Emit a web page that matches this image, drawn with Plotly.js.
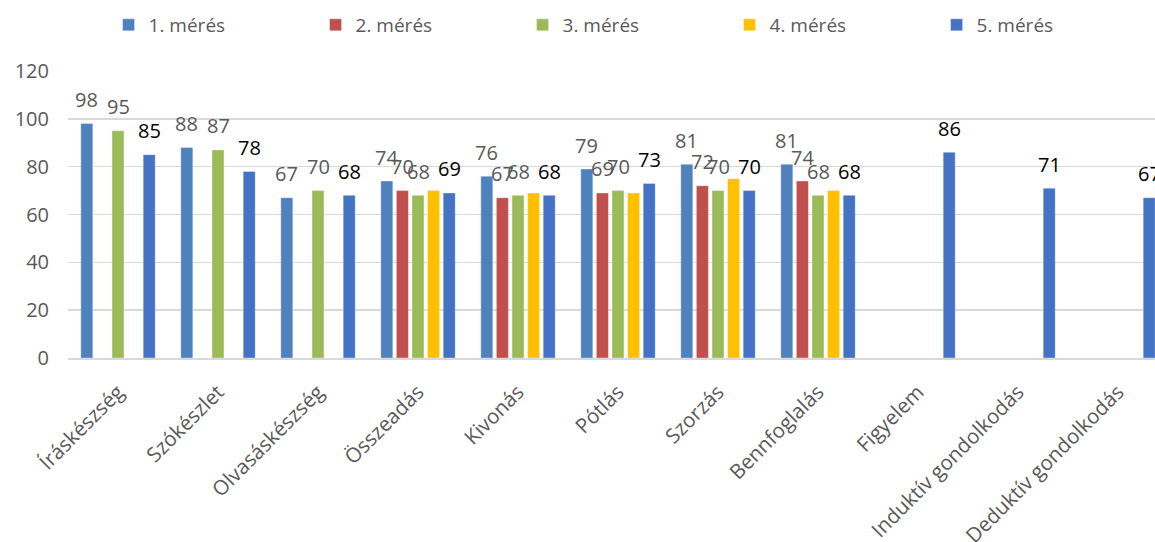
<!DOCTYPE html>
<html>
<head>
<meta charset="utf-8">
<script src="https://cdn.plot.ly/plotly-3.0.1.min.js"></script>
<style>html,body{margin:0;padding:0;background:#fff;}#chart{width:1155px;height:542px;}</style>
</head>
<body>
<div id="chart"></div>
<script>
const categories = ["Íráskészség","Szókészlet","Olvasáskészség","Összeadás","Kivonás","Pótlás","Szorzás","Bennfoglalás","Figyelem","Induktív gondolkodás","Deduktív gondolkodás"];
const seriesNames = ["1. mérés","2. mérés","3. mérés","4. mérés","5. mérés"];
const meres1 = [98, 88, 67, 74, 76, 79, 81, 81, null, null, null];
const meres2 = [null, null, null, 70, 67, 69, 72, 74, null, null, null];
const meres3 = [95, 87, 70, 68, 68, 70, 70, 68, null, null, null];
const meres4 = [null, null, null, 70, 69, 69, 75, 70, null, null, null];
const meres5 = [85, 78, 68, 69, 68, 73, 70, 68, 86, 71, 67];
const yTicks = [0, 20, 40, 60, 80, 100, 120];

const allSeries = [meres1, meres2, meres3, meres4, meres5];
const colors = ["#4F81BD", "#C0504D", "#9BBB59", "#FFC000", "#4472C4"];
const labelColors = ["#595959", "#595959", "#595959", null, "#000000"];
const FONT = "Open Sans, sans-serif";
const bargap = 0.22;
const nS = allSeries.length;
const slot = (1 - bargap) / nS;

const traces = allSeries.map((vals, i) => ({
  type: "bar",
  name: seriesNames[i],
  x: categories,
  y: vals,
  marker: { color: colors[i], line: { color: "rgba(255,255,255,0.35)", width: 1 } },
  hoverinfo: "x+y+name"
}));

const annotations = [];
allSeries.forEach((vals, i) => {
  if (!labelColors[i]) return;
  vals.forEach((v, j) => {
    if (v === null) return;
    annotations.push({
      xref: "x", yref: "y",
      x: j + (i - (nS - 1) / 2) * slot,
      y: v,
      text: String(v),
      showarrow: false,
      yanchor: "middle",
      yshift: 24,
      font: { family: FONT, size: 20, color: labelColors[i] }
    });
  });
});

const layout = {
  width: 1155, height: 542,
  margin: { l: 68, r: 0, t: 71, b: 184 },
  paper_bgcolor: "#fff", plot_bgcolor: "#fff",
  barmode: "group",
  bargap: bargap,
  bargroupgap: 0.23,
  showlegend: true,
  legend: {
    orientation: "h",
    xref: "container", yref: "container",
    x: 0.094, y: 1 - 25 / 542,
    xanchor: "left", yanchor: "middle",
    entrywidth: 162, entrywidthmode: "pixels",
    font: { family: FONT, size: 19, color: "#595959" },
    traceorder: "normal"
  },
  xaxis: {
    type: "category",
    range: [-0.5, -0.5 + 1087 / 100],
    tickangle: -45,
    tickfont: { family: FONT, size: 20.5, color: "#595959" },
    showgrid: false,
    showline: true, linecolor: "#d9d9d9", linewidth: 2,
    ticks: "", zeroline: false,
    ticklabelstandoff: 12
  },
  yaxis: {
    range: [0, 120],
    tickvals: yTicks,
    ticktext: yTicks.map(String),
    tickfont: { family: FONT, size: 20, color: "#595959" },
    showgrid: true, gridcolor: "#d9d9d9", gridwidth: 1.5,
    zeroline: false, showline: false,
    ticks: "", ticklabelstandoff: 18
  },
  annotations: annotations
};

Plotly.newPlot("chart", traces, layout, { displayModeBar: false, staticPlot: true });
</script>
</body>
</html>
